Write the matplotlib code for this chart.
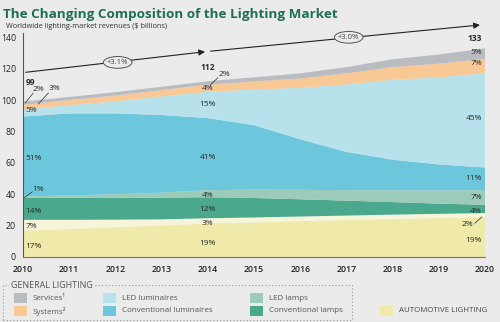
import matplotlib
matplotlib.use("Agg")
import matplotlib.pyplot as plt
from matplotlib.patches import Ellipse, Rectangle
import numpy as np

years = [2010, 2011, 2012, 2013, 2014, 2015, 2016, 2017, 2018, 2019, 2020]
auto_conv = [16.8, 17.8, 18.9, 20.0, 21.3, 22.0, 22.8, 23.5, 24.2, 24.8, 25.3]
auto_led = [6.9, 5.9, 4.9, 4.0, 3.4, 3.2, 3.0, 2.9, 2.8, 2.7, 2.7]
conv_lamps = [13.9, 14.0, 14.0, 13.8, 13.4, 12.4, 11.0, 9.5, 8.0, 6.5, 5.3]
led_lamps = [1.0, 1.5, 2.2, 3.2, 4.5, 5.3, 6.0, 6.7, 7.5, 8.4, 9.3]
conv_lum = [50.9, 52.3, 51.5, 49.5, 45.9, 41.1, 32.2, 24.4, 19.5, 16.6, 14.4]
led_lum = [4.5, 5.2, 7.7, 11.8, 16.8, 22.7, 32.8, 43.0, 51.0, 55.5, 60.0]
systems = [3.0, 3.3, 3.7, 4.1, 4.5, 5.2, 6.0, 7.0, 8.0, 8.7, 9.3]
services = [2.0, 2.0, 2.1, 2.1, 2.2, 2.6, 3.2, 4.0, 5.0, 5.8, 6.7]

totals_labels = {2010: "99", 2014: "112", 2020: "133"}
growth = ["+3.1%", "+3.0%"]

layers = [auto_conv, auto_led, conv_lamps, led_lamps, conv_lum, led_lum, systems, services]
colors = ["#efeaa9", "#f7f5d9", "#4aa98d", "#9dcbb9", "#6cc7dc", "#b7e2eb", "#f8c895", "#b9bcc1"]

BG = "#ebebeb"
plt.rcParams['font.family'] = ['Open Sans', 'DejaVu Sans']

fig = plt.figure(figsize=(5.0, 3.22), dpi=100, facecolor=BG)
ax = fig.add_axes([0.046, 0.2019, 0.924, 0.731])
ax.set_facecolor(BG)
ax.stackplot(years, *layers, colors=colors, linewidth=0)
ax.set_xlim(2010, 2020)
ax.set_ylim(0, 150)
for s in ["top", "right"]:
    ax.spines[s].set_visible(False)
ax.spines["left"].set_bounds(0, 143)
ax.spines["left"].set_color("#555555")
ax.spines["left"].set_linewidth(0.8)
ax.spines["bottom"].set_color("#777777")
ax.spines["bottom"].set_linewidth(0.8)
ax.set_yticks(range(0, 141, 20))
ax.set_xticks(years)
ax.tick_params(length=0, labelsize=6.3, colors="#222222", pad=4)
for lab in ax.get_xticklabels():
    lab.set_fontweight("semibold")
ax.tick_params(axis="y", pad=5)
ax.tick_params(axis="x", pad=6)

# growth arrows
ax.annotate("", xy=(2014, 131), xytext=(2010, 117.5),
            arrowprops=dict(arrowstyle="-|>", color="#222222", lw=0.8, mutation_scale=9), annotation_clip=False)
ax.annotate("", xy=(2019.95, 148), xytext=(2014, 131),
            arrowprops=dict(arrowstyle="-|>", color="#222222", lw=0.8, mutation_scale=9), annotation_clip=False)
for (xc, yc), g in zip([(2012.05, 124), (2017.05, 140)], growth):
    ax.add_patch(Ellipse((xc, yc), 0.62, 7.5, facecolor=BG, edgecolor="#555555", lw=0.7, zorder=3, clip_on=False))
    ax.text(xc, yc, g, ha="center", va="center", fontsize=5.5, color="#444444", zorder=4)

tc = "#2a2a2a"
fs = 6
def lab(x, y, s, ha="left", **kw):
    ax.text(x, y, s, ha=ha, va="center", fontsize=fs, color=tc, **kw)

# 2010 labels
lab(2010.05, 111.5, totals_labels[2010], fontweight="bold")
lab(2010.2, 107, "2%")
lab(2010.55, 107.5, "3%")
ax.plot([2010.05, 2010.22], [98.2, 104.5], color=tc, lw=0.5)
ax.plot([2010.33, 2010.55], [97.5, 104.5], color=tc, lw=0.5)
lab(2010.05, 93.5, "5%")
lab(2010.05, 63, "51%")
lab(2010.2, 43, "1%")
ax.plot([2010.03, 2010.2], [37.8, 41.5], color=tc, lw=0.5)
lab(2010.05, 28.7, "14%")
lab(2010.05, 19.7, "7%")
lab(2010.05, 6.4, "17%")

# 2014 labels
lab(2014, 121, totals_labels[2014], ha="center", fontweight="bold")
lab(2014.35, 116.5, "2%", ha="center")
ax.plot([2014.05, 2014.22], [109.5, 114.3], color=tc, lw=0.5)
lab(2014, 107.5, "4%", ha="center")
lab(2014, 97, "15%", ha="center")
lab(2014, 63.7, "41%", ha="center")
lab(2014, 39.5, "4%", ha="center")
lab(2014, 30, "12%", ha="center")
lab(2014, 21.6, "3%", ha="center")
lab(2014, 8.9, "19%", ha="center")

# 2020 labels
xr = 2019.93
lab(xr, 139, totals_labels[2020], ha="right", fontweight="bold")
lab(xr, 130.6, "5%", ha="right")
lab(xr, 123.5, "7%", ha="right")
lab(xr, 88, "45%", ha="right")
lab(xr, 49.7, "11%", ha="right")
lab(xr, 37.6, "7%", ha="right")
lab(xr, 29.3, "4%", ha="right")
lab(2019.75, 21, "2%", ha="right")
ax.plot([2019.78, 2019.93], [21.5, 25.5], color=tc, lw=0.5)
lab(xr, 10.8, "19%", ha="right")

# title
fig.text(0.006, 0.955, "The Changing Composition of the Lighting Market", fontsize=9.7,
         fontweight="bold", color="#1e6e55", ha="left", va="center")
fig.text(0.012, 0.918, "Worldwide lighting-market revenues ($ billions)", fontsize=5.3,
         color="#333333", ha="left", va="center")

# legend
def px(x, y):
    return x / 500, 1 - y / 322

lx0, ly0 = px(3, 320)
lx1, ly1 = px(352, 285)
fig.add_artist(Rectangle((lx0, ly0), lx1 - lx0, ly1 - ly0, transform=fig.transFigure,
                         facecolor="none", edgecolor="#999999", lw=0.8, linestyle=(0, (1, 2))))
hx, hy = px(11, 286)
fig.text(hx, hy, "GENERAL LIGHTING", fontsize=6.4, color="#555555", ha="left", va="center",
         bbox=dict(facecolor=BG, edgecolor="none", pad=1.2))

entries = [
    (14, 298, "#b9bcc1", "Services\u00b9"),
    (14, 311, "#f8c895", "Systems\u00b2"),
    (103, 298, "#b7e2eb", "LED luminaires"),
    (103, 311, "#6cc7dc", "Conventional luminaires"),
    (250, 298, "#9dcbb9", "LED lamps"),
    (250, 311, "#4aa98d", "Conventional lamps"),
    (380, 311, "#efeaa9", "AUTOMOTIVE LIGHTING"),
]
for x, y, c, t in entries:
    x0, y0 = px(x, y + 5)
    fig.add_artist(Rectangle((x0, y0), 13 / 500, 10 / 322, transform=fig.transFigure,
                             facecolor=c, edgecolor="none"))
    tx, ty = px(x + 19, y)
    fig.text(tx, ty, t, fontsize=5.8 if not t.isupper() else 5.7,
             color="#555555" if not t.isupper() else "#444444",
             ha="left", va="center")

fig.savefig("out.png", dpi=100, facecolor=BG)
